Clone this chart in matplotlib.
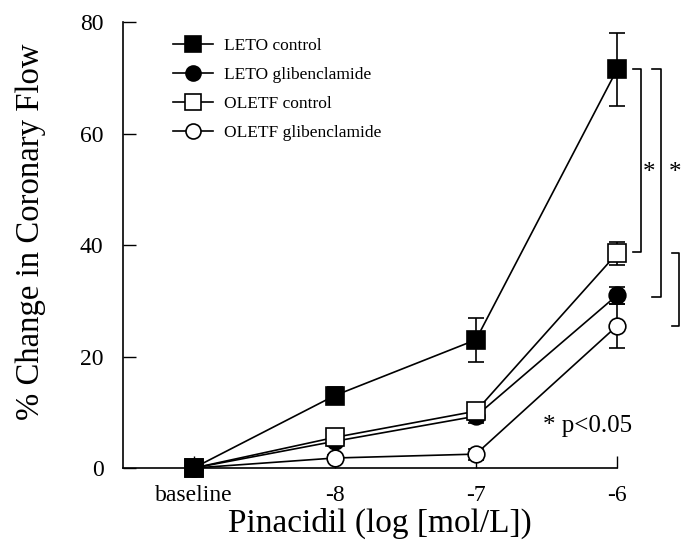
import matplotlib.pyplot as plt

plt.rcParams["font.family"] = ["Liberation Serif", "DejaVu Serif"]

dosis = ["baseline", "-8", "-7", "-6"]
posiciones = [0, 1, 2, 3]

leto_control = [0, 13, 23, 71.5]
leto_control_err = [0, 1.5, 4, 6.5]
leto_glib = [0, 4.8, 9.3, 31]
leto_glib_err = [0, 0.8, 1.2, 1.5]
oletf_control = [0, 5.5, 10.2, 38.5]
oletf_control_err = [0, 0.8, 1.5, 2]
oletf_glib = [0, 1.8, 2.5, 25.5]
oletf_glib_err = [0, 0.6, 1.0, 4]

fig = plt.figure(figsize=(6.91, 5.5), dpi=100)
ax = fig.add_axes([0.178, 0.149, 0.715, 0.811])

series = [
    (oletf_glib, oletf_glib_err, "o", "white", "OLETF glibenclamide"),
    (leto_glib, leto_glib_err, "o", "black", "LETO glibenclamide"),
    (oletf_control, oletf_control_err, "s", "white", "OLETF control"),
    (leto_control, leto_control_err, "s", "black", "LETO control"),
]
handles = {}
for valores, errores, marcador, relleno, etiqueta in series:
    barras = ax.errorbar(posiciones, valores, yerr=errores, fmt="none", ecolor="black",
                         elinewidth=1.2, capsize=5.5, capthick=1.2, zorder=2)
    for parte in barras.lines[1] + barras.lines[2]:
        parte.set_clip_on(False)
    linea, = ax.plot(posiciones, valores, color="black", linewidth=1.2,
                     marker=marcador, markersize=12 if marcador == "o" else 12.5,
                     markerfacecolor=relleno, markeredgecolor="black",
                     markeredgewidth=1.2, zorder=3, label=etiqueta, clip_on=False)
    handles[etiqueta] = linea

orden = ["LETO control", "LETO glibenclamide", "OLETF control", "OLETF glibenclamide"]
leg = ax.legend([handles[k] for k in orden], orden, loc="upper left",
                bbox_to_anchor=(0.07, 1.0), frameon=False, fontsize=12.5,
                handlelength=2.3, handletextpad=0.6, labelspacing=0.75,
                markerscale=0.9)

ax.set_xlim(-0.5, 3)
ax.set_ylim(0, 80)
ax.set_yticks([0, 20, 40, 60, 80])
ax.set_xticks(posiciones)
ax.set_xticklabels(dosis)
ax.tick_params(axis="both", direction="in", length=9, width=1, labelsize=17, pad=14)
ax.tick_params(axis="x", pad=12)
for lado in ["top", "right"]:
    ax.spines[lado].set_visible(False)
for lado in ["left", "bottom"]:
    ax.spines[lado].set_linewidth(1.2)

ax.set_ylabel("% Change in Coronary Flow", fontsize=23.6)
ax.yaxis.set_label_coords(-0.155, 0.529)
ax.set_xlabel("Pinacidil (log [mol/L])", fontsize=24)
ax.xaxis.set_label_coords(0.52, -0.09)

# corchetes de significancia
def corchete(x, y0, y1, ancho=0.06):
    ax.plot([x - ancho, x, x, x - ancho], [y0, y0, y1, y1], color="black",
            linewidth=1.2, clip_on=False)

corchete(3.17, 71.5, 38.8)
corchete(3.31, 71.5, 30.7)
corchete(3.44, 38.6, 25.4, ancho=0.05)
ax.text(3.225, 53, "*", fontsize=18, ha="center", va="center")
ax.text(3.41, 53, "*", fontsize=18, ha="center", va="center")
ax.text(2.79, 7.5, "* p<0.05", fontsize=18, ha="center", va="center")

fig.savefig("out.png", dpi=100)
